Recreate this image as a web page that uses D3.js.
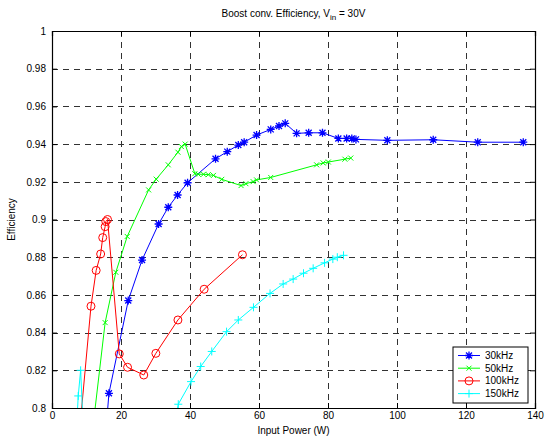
<!DOCTYPE html>
<html>
<head>
<meta charset="utf-8">
<script src="https://cdn.jsdelivr.net/npm/d3@7"></script>
<style>
  body { margin: 0; background: #fff; }
  text { font-family: "Liberation Sans", Arial, sans-serif; font-size: 10px; fill: #000; }
</style>
</head>
<body>
<svg id="chart" width="546" height="439"></svg>
<script>
// efficiency vs input power (points below 0.8 are clipped)
const p30k = [15.6, 16.5, 22.1, 26.1, 30.9, 33.7, 36.4, 39.3, 47.4, 50.8, 54.0, 55.7, 59.3, 63.4, 65.8, 67.6,
    70.9, 74.4, 78.4, 83.0, 85.4, 86.9, 88.1, 97.2, 110.5, 123.4, 136.6];
const e30k = [0.787, 0.8078, 0.857, 0.8785, 0.8976, 0.9065, 0.913, 0.9195, 0.9322, 0.936, 0.9395, 0.941, 0.9448, 0.9478, 0.9496, 0.951,
    0.9457, 0.946, 0.946, 0.943, 0.943, 0.943, 0.9425, 0.942, 0.9423, 0.941, 0.941];

const p50k = [12.0, 15.4, 18.5, 21.8, 28.0, 30.2, 33.7, 36.5, 37.5, 38.6, 41.4, 42.4, 43.9, 45.3, 46.8, 49.2,
    54.8, 56.2, 58.3, 59.3, 63.4, 76.7, 78.6, 80.1, 84.9, 86.6];
const e50k = [0.792, 0.8453, 0.872, 0.891, 0.9157, 0.9214, 0.929, 0.9357, 0.9387, 0.940, 0.9243, 0.924, 0.924, 0.9238, 0.9234, 0.9213,
    0.918, 0.919, 0.9201, 0.921, 0.9223, 0.929, 0.930, 0.9305, 0.932, 0.9326];

const p100k = [8.0, 11.3, 12.8, 14.1, 14.7, 15.4, 15.6, 16.1, 19.5, 21.9, 26.6, 30.1, 36.5, 44.1, 55.2];
const e100k = [0.788, 0.854, 0.873, 0.8817, 0.8904, 0.8962, 0.8989, 0.900, 0.8287, 0.8216, 0.8175, 0.829, 0.8467, 0.863, 0.8813];

const p150k = [7.0, 7.6, 8.3, 9.5, 35.0, 36.6, 40.3, 43.1, 46.3, 50.6, 54.0, 58.4, 63.2, 67.0, 69.9, 72.9, 75.7,
    79.0, 81.4, 82.7, 84.5];
const e150k = [0.785, 0.8064, 0.820, 0.772, 0.785, 0.802, 0.814, 0.822, 0.830, 0.8405, 0.8467, 0.8534, 0.8608, 0.8658, 0.8684, 0.8715, 0.8741,
    0.877, 0.879, 0.880, 0.881];

const seriesNames = ['30kHz', '50kHz', '100kHz', '150kHz'];
const seriesColors = ['#0000ff', '#00ff00', '#ff0000', '#00ffff'];
const seriesMarkers = ['star', 'x', 'circle', 'plus'];

const xTicks = [0, 20, 40, 60, 80, 100, 120, 140];
const yTicks = [0.8, 0.82, 0.84, 0.86, 0.88, 0.9, 0.92, 0.94, 0.96, 0.98, 1];

const series = [
    { px: p30k, ef: e30k },
    { px: p50k, ef: e50k },
    { px: p100k, ef: e100k },
    { px: p150k, ef: e150k }
].map((s, i) => ({
    name: seriesNames[i],
    color: seriesColors[i],
    marker: seriesMarkers[i],
    points: s.px.map((p, j) => [p, s.ef[j]])
}));

const margin = { left: 52, top: 31, right: 11, bottom: 31 };
const width = 546, height = 439;
const svg = d3.select('#chart');

const x = d3.scaleLinear().domain([0, 140]).range([margin.left, width - margin.right]);
const y = d3.scaleLinear().domain([0.8, 1]).range([height - margin.bottom, margin.top]);

svg.append('defs').append('clipPath').attr('id', 'plotclip')
    .append('rect')
    .attr('x', x(0)).attr('y', y(1))
    .attr('width', x(140) - x(0)).attr('height', y(0.8) - y(1));

// dashed grid
const grid = svg.append('g').attr('stroke', '#000').attr('stroke-width', 1)
    .attr('stroke-dasharray', '6,5').attr('opacity', 0.8);
xTicks.slice(1, -1).forEach(t => {
    grid.append('line')
        .attr('x1', Math.round(x(t)) + 0.5).attr('x2', Math.round(x(t)) + 0.5)
        .attr('y1', y(1)).attr('y2', y(0.8));
});
yTicks.slice(1, -1).forEach(t => {
    grid.append('line')
        .attr('y1', Math.round(y(t)) + 0.5).attr('y2', Math.round(y(t)) + 0.5)
        .attr('x1', x(0)).attr('x2', x(140));
});

// axes, ticks pointing inward
svg.append('g').attr('transform', `translate(0,${y(0.8)})`)
    .call(d3.axisBottom(x).tickValues(xTicks).tickSize(-5).tickPadding(4).tickFormat(d3.format('d')));
svg.append('g').attr('transform', `translate(${x(0)},0)`)
    .call(d3.axisLeft(y).tickValues(yTicks).tickSize(-5).tickPadding(6).tickFormat(d => String(+d.toFixed(2))));
svg.append('g').attr('transform', `translate(0,${y(1)})`)
    .call(d3.axisTop(x).tickValues(xTicks).tickSize(-5).tickFormat(''));
svg.append('g').attr('transform', `translate(${x(140)},0)`)
    .call(d3.axisRight(y).tickValues(yTicks).tickSize(-5).tickFormat(''));
svg.selectAll('.domain').attr('stroke', '#000').attr('stroke-width', 1.2);
svg.selectAll('.tick line').attr('stroke', '#000');
svg.selectAll('.tick text').style('font-family', '"Liberation Sans", Arial, sans-serif').style('font-size', '10px').attr('fill', '#000');

function drawMarker(g, type, color) {
    if (type === 'circle') {
        g.append('circle').attr('r', 4).attr('fill', 'none').attr('stroke', color).attr('stroke-width', 1);
    } else if (type === 'x') {
        g.append('path').attr('d', 'M-2.5,-2.5L2.5,2.5M-2.5,2.5L2.5,-2.5').attr('stroke', color).attr('stroke-width', 1);
    } else if (type === 'plus') {
        g.append('path').attr('d', 'M-4,0L4,0M0,-4L0,4').attr('stroke', color).attr('stroke-width', 1);
    } else {
        g.append('path').attr('d', 'M-4,0L4,0M0,-4L0,4M-3,-3L3,3M-3,3L3,-3').attr('stroke', color).attr('stroke-width', 1.3);
    }
}

const line = d3.line().x(d => x(d[0])).y(d => y(d[1]));
const plot = svg.append('g').attr('clip-path', 'url(#plotclip)');
series.forEach(s => {
    plot.append('path').datum(s.points)
        .attr('fill', 'none').attr('stroke', s.color).attr('stroke-width', 1).attr('d', line);
    s.points.filter(d => d[1] >= 0.8).forEach(d => {
        const g = plot.append('g').attr('transform', `translate(${x(d[0])},${y(d[1])})`);
        drawMarker(g, s.marker, s.color);
    });
});

// title with subscript
const title = svg.append('text').attr('x', (x(0) + x(140)) / 2).attr('y', 17).attr('text-anchor', 'middle');
title.append('tspan').text('Boost conv. Efficiency, V');
title.append('tspan').attr('dy', 3).style('font-size', '8px').text('in');
title.append('tspan').attr('dy', -3).text(' = 30V');

svg.append('text').attr('x', (x(0) + x(140)) / 2).attr('y', 434).attr('text-anchor', 'middle').text('Input Power (W)');
svg.append('text').attr('transform', `translate(15,${(y(0.8) + y(1)) / 2}) rotate(-90)`)
    .attr('text-anchor', 'middle').text('Efficiency');

// legend
const legend = svg.append('g').attr('transform', 'translate(453,347)');
legend.append('rect').attr('width', 75).attr('height', 56)
    .attr('fill', '#fff').attr('stroke', '#000').attr('stroke-width', 1);
series.forEach((s, i) => {
    const ly = 8.5 + i * 12.7;
    legend.append('line').attr('x1', 5).attr('x2', 27).attr('y1', ly).attr('y2', ly)
        .attr('stroke', s.color).attr('stroke-width', 1);
    const g = legend.append('g').attr('transform', `translate(16,${ly})`);
    drawMarker(g, s.marker, s.color);
    legend.append('text').attr('x', 32).attr('y', ly + 3.5).text(s.name);
});
</script>
</body>
</html>
